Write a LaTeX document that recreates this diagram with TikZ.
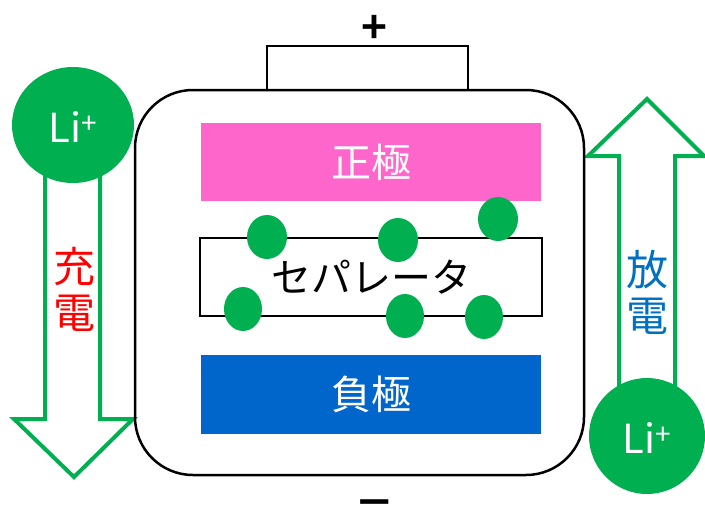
\documentclass[tikz,border=0pt]{standalone}
\usepackage{fontspec}
\newfontfamily\jp{Noto Sans CJK JP}
\newfontfamily\jpb{Noto Sans CJK JP Bold}
\definecolor{ligreen}{HTML}{00B050}
\definecolor{pinkel}{HTML}{FF66CC}
\definecolor{blueel}{HTML}{0066CC}
\definecolor{dischblue}{HTML}{0070C0}
\tikzset{
  arrowbox/.style={draw=ligreen, line width=4pt, fill=white, line join=miter},
  ion/.style={fill=ligreen},
  ionlabel/.style={text=white, font=\jp\fontsize{40}{40}\selectfont, inner sep=0pt},
  dot/.style={fill=ligreen},
  vlabel/.style={font=\jp\fontsize{42}{46}\selectfont, align=center, inner sep=0pt},
  eltext/.style={text=white, font=\jp\fontsize{40}{40}\selectfont, inner sep=0pt},
}
\begin{document}
\begin{tikzpicture}[x=1pt,y=-1pt]
\useasboundingbox (0,0) rectangle (705,509);
% left arrow (charge, down)
\draw[arrowbox] (45,130) -- (45,419) -- (14,419) -- (74,477) -- (133,419) -- (100,419) -- (100,130) -- cycle;
\fill[ion] (73,125) ellipse [x radius=61, y radius=58];
\node[ionlabel] (liL) at (73,127) {Li\textsuperscript{+}};
\node[vlabel, text=red] (charge) at (74,289) {充\\電};
% right arrow (discharge, up)
\draw[arrowbox] (619,430) -- (619,156) -- (588,156) -- (647,99) -- (704,156) -- (675,156) -- (675,430) -- cycle;
\fill[ion] (647,436) ellipse [x radius=58, y radius=58];
\node[ionlabel] (liR) at (647,438) {Li\textsuperscript{+}};
\node[vlabel, text=dischblue] (discharge) at (647,292) {放\\電};
% battery
\draw[line width=2.2pt] (267,90) rectangle (468,46);
\draw[line width=2.5pt, rounded corners=58pt] (135,90) rectangle (584,475);
\node[font=\jpb\fontsize{44}{44}\selectfont, inner sep=0pt] (plus) at (374,29) {+};
\node[font=\jpb\fontsize{44}{44}\selectfont, inner sep=0pt] (minus) at (375,509) {\scalebox{1.25}[1]{−}};
% electrodes
\fill[pinkel] (201,123) rectangle (541,201);
\node[eltext] (pos) at (371,162) {正極};
\draw[line width=2pt] (200,238) rectangle (542,316);
\node[font=\jp\fontsize{40}{40}\selectfont, inner sep=0pt] (sep) at (371,277) {セパレータ};
\fill[blueel] (201,355) rectangle (541,434);
\node[eltext] (neg) at (371,394) {負極};
% lithium ions near separator
\fill[dot] (267,237) ellipse [x radius=20, y radius=22];
\fill[dot] (398,240) ellipse [x radius=20, y radius=22];
\fill[dot] (498,219) ellipse [x radius=20, y radius=22];
\fill[dot] (243,309) ellipse [x radius=19, y radius=22];
\fill[dot] (405,316) ellipse [x radius=19, y radius=22];
\fill[dot] (484,317) ellipse [x radius=19, y radius=22];
\end{tikzpicture}
\end{document}
